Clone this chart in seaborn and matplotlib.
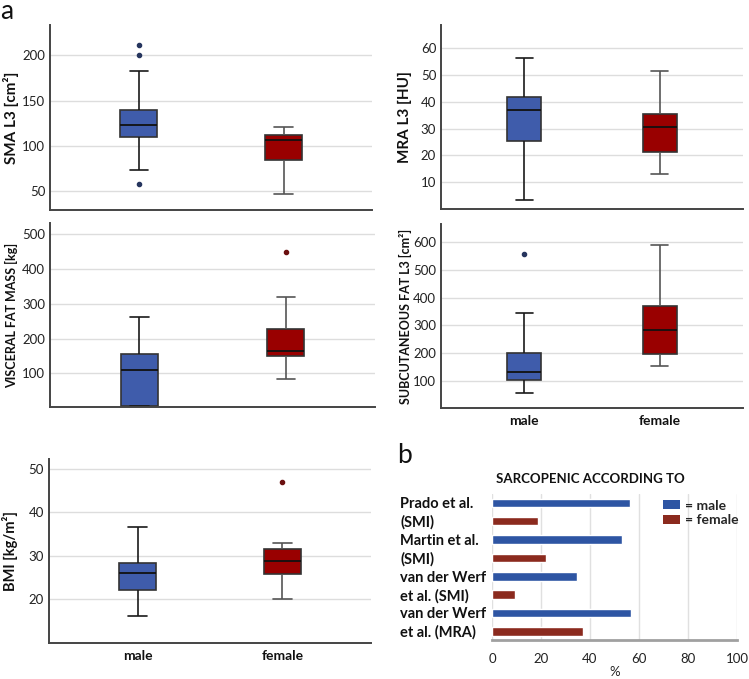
import numpy as np
import pandas as pd
import seaborn as sns
import matplotlib.pyplot as plt
from matplotlib.patches import Patch

sexes = ["male", "female"]

# box stats: [whisker low, q1, median, q3, whisker high]
sma_male_box = [73.9, 110.3, 123.5, 139.7, 183.1]
sma_male_out = [58.5, 200.0, 211.4]
sma_female_box = [46.7, 84.6, 106.3, 111.8, 121.3]
sma_female_out = []

mra_male_box = [3.2, 25.4, 36.8, 41.8, 56.3]
mra_male_out = []
mra_female_box = [13.1, 21.4, 30.7, 35.3, 51.6]
mra_female_out = []

vfm_male_box = [8, 8, 111, 157, 263]
vfm_male_out = []
vfm_female_box = [85, 151, 164, 227, 318]
vfm_female_out = [447]

sat_male_box = [55, 102, 134, 201, 346]
sat_male_out = [557]
sat_female_box = [155, 196, 282, 372, 590]
sat_female_out = []

bmi_male_box = [16.2, 22.2, 26.0, 28.3, 36.5]
bmi_male_out = []
bmi_female_box = [20.2, 25.9, 28.8, 31.6, 33.0]
bmi_female_out = [46.9]

# bar chart
studies = ["Prado et al.\n(SMI)", "Martin et al.\n(SMI)",
           "van der Werf\net al. (SMI)", "van der Werf\net al. (MRA)"]
pct_male = [56.4, 53.2, 34.5, 56.6]
pct_female = [18.7, 22.0, 9.4, 37.0]

box_colors = {"male": "#3F5CAB", "female": "#990000"}
whisker_colors = {"male": "#1a1a1a", "female": "#555555"}
flier_colors = {"male": "#26355e", "female": "#6b1010"}
bar_colors = {"male": "#2E55A3", "female": "#8B2A1E"}


def expand(box, out):
    # sample whose quartiles / whiskers / fliers equal the read stats
    lo, q1, med, q3, hi = box
    low = sorted(v for v in out if v < lo)
    high = sorted(v for v in out if v > hi)
    k = max(len(low), len(high)) + 1
    vals = low + [lo] * (k - len(low))
    vals += [q1] * k + [med] + [q3] * k
    vals += [hi] * (k - len(high)) + high
    return vals


def make_df(mbox, mout, fbox, fout):
    m = expand(mbox, mout)
    f = expand(fbox, fout)
    return pd.DataFrame({"sex": ["male"] * len(m) + ["female"] * len(f),
                         "value": m + f})


sns.set_theme(style="white")
plt.rcParams['font.family'] = ['Lato', 'DejaVu Sans']

fig = plt.figure(figsize=(7.49, 6.79), dpi=100)

panels = [
    ([0.0668, 0.6907, 0.430, 0.2725], make_df(sma_male_box, sma_male_out, sma_female_box, sma_female_out),
     "SMA L3 [cm²]", 11, (29.4, 233.5), [50, 100, 150, 200], False),
    ([0.5888, 0.6922, 0.4032, 0.271], make_df(mra_male_box, mra_male_out, mra_female_box, mra_female_out),
     "MRA L3 [HU]", 11, (0, 68.6), [10, 20, 30, 40, 50, 60], False),
    ([0.0668, 0.4006, 0.434, 0.271], make_df(vfm_male_box, vfm_male_out, vfm_female_box, vfm_female_out),
     "VISCERAL FAT MASS [kg]", 9, (3.8, 531), [100, 200, 300, 400, 500], False),
    ([0.5888, 0.3991, 0.4032, 0.271], make_df(sat_male_box, sat_male_out, sat_female_box, sat_female_out),
     "SUBCUTANEOUS FAT L3 [cm²]", 9, (2.4, 666), [100, 200, 300, 400, 500, 600], True),
    ([0.0654, 0.053, 0.430, 0.271], make_df(bmi_male_box, bmi_male_out, bmi_female_box, bmi_female_out),
     "BMI [kg/m²]", 10.5, (10, 52.2), [20, 30, 40, 50], True),
]

for rect, df, ylab, ysize, ylim, ticks, show_x in panels:
    ax = fig.add_axes(rect)
    for s in sexes:
        sns.boxplot(data=df[df.sex == s], x="sex", y="value", order=sexes,
                    color=box_colors[s], saturation=1, width=0.25,
                    linecolor=whisker_colors[s], linewidth=1.2,
                    boxprops=dict(edgecolor="#333333"),
                    medianprops=dict(color="#111111", linewidth=1.3),
                    flierprops=dict(marker="o", markersize=3,
                                    markerfacecolor=flier_colors[s],
                                    markeredgecolor=flier_colors[s]),
                    ax=ax)
    ax.set_xlim(-0.611, 1.611)
    ax.set_ylim(*ylim)
    ax.set_yticks(ticks)
    ax.yaxis.grid(True, color="#dddddd", linewidth=1)
    ax.set_axisbelow(True)
    for side in ["top", "right"]:
        ax.spines[side].set_visible(False)
    for side in ["left", "bottom"]:
        ax.spines[side].set_color("#444444")
        ax.spines[side].set_linewidth(1.4)
    ax.tick_params(axis="both", length=0)
    ax.tick_params(axis="y", labelsize=9.5, pad=3.5, labelcolor="#222222")
    ax.set_xlabel("")
    ax.set_ylabel(ylab)
    ax.yaxis.label.set_fontsize(ysize)
    ax.yaxis.label.set_fontweight("bold")
    ax.yaxis.label.set_color("#111111")
    ax.yaxis.set_label_coords(-0.097, 0.5)
    if show_x:
        ax.set_xticks([0, 1])
        ax.set_xticklabels(sexes, fontsize=10, fontweight="bold", color="#111111")
        ax.tick_params(axis="x", pad=5)
    else:
        ax.set_xticks([])

# panel b
bar_df = pd.DataFrame({
    "study": studies * 2,
    "pct": pct_male + pct_female,
    "sex": ["male"] * len(studies) + ["female"] * len(studies),
})
axb = fig.add_axes([0.6569, 0.0574, 0.327, 0.2150])
sns.barplot(data=bar_df, y="study", x="pct", hue="sex", order=studies,
            hue_order=sexes, palette=bar_colors, saturation=1, orient="h",
            width=1.0, gap=0.53, legend=False, ax=axb)
axb.set_xlim(0, 100)
axb.set_ylim(3.49, -0.49)
axb.set_xticks([0, 20, 40, 60, 80, 100])
# one label line next to each bar
line_ticks = [i + d for i in range(len(studies)) for d in (-0.25, 0.25)]
line_labels = [part for s in studies for part in s.split("\n")]
axb.set_yticks(line_ticks)
axb.set_yticklabels(line_labels, fontsize=10.5, fontweight="bold", color="#111111")
axb.xaxis.grid(True, color="#e0e0e0", linewidth=1)
axb.yaxis.grid(False)
axb.set_axisbelow(True)
for side in ["top", "right", "left"]:
    axb.spines[side].set_visible(False)
axb.spines["bottom"].set_color("#a0a0a0")
axb.spines["bottom"].set_linewidth(2)
axb.tick_params(axis="both", length=0)
axb.tick_params(axis="x", labelsize=9.5, pad=9, labelcolor="#222222")
axb.tick_params(axis="y", pad=66)
for lab in axb.get_yticklabels():
    lab.set_ha("left")
axb.set_ylabel("")
axb.set_xlabel("%", fontsize=9.5, labelpad=1, color="#222222")
axb.set_title("SARCOPENIC ACCORDING TO", fontsize=9.5, fontweight="bold",
              x=0.40, pad=8, color="#111111")
handles = [Patch(facecolor=bar_colors[s], edgecolor="none") for s in sexes]
axb.legend(handles, ["= male", "= female"], loc="upper right",
           bbox_to_anchor=(1.03, 1.0), frameon=False, borderaxespad=0,
           handlelength=1.2, handleheight=0.6, handletextpad=0.4,
           labelspacing=0.2, prop=dict(weight="bold", size=10))

fig.text(0.0, 1 - 19 / 679, "a", fontsize=19, va="baseline", ha="left", color="#111111")
fig.text(397 / 749, 1 - 463 / 679, "b", fontsize=19, va="baseline", ha="left", color="#111111")

fig.savefig("out.png", dpi=100)
